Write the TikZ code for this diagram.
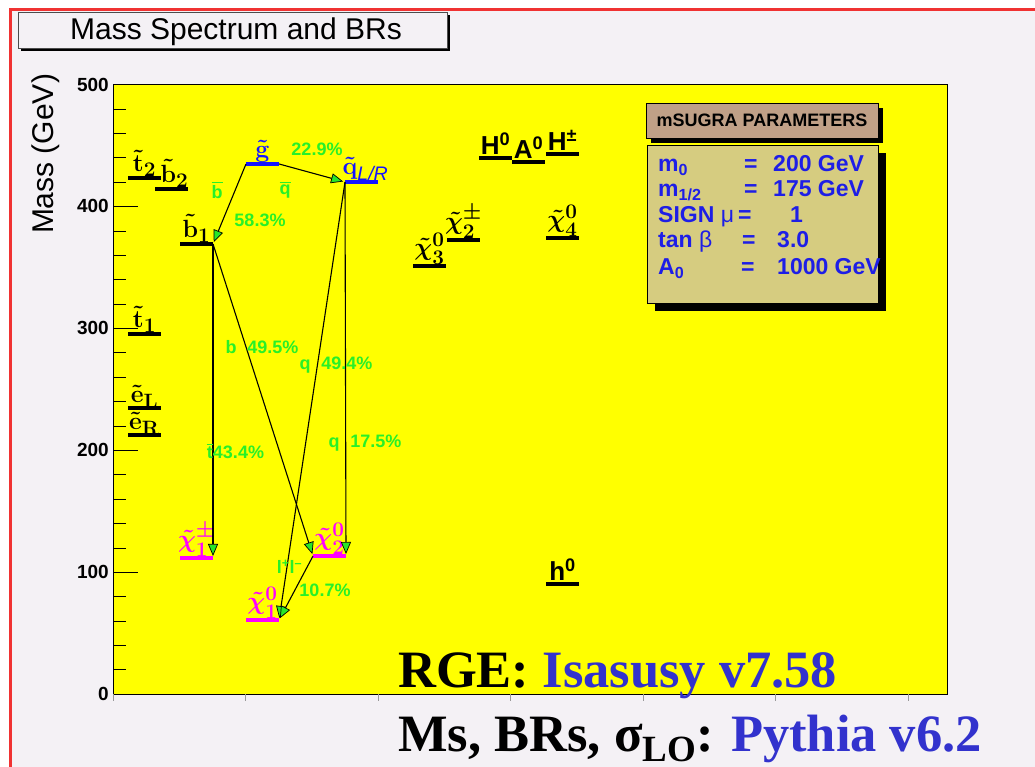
\documentclass[tikz,border=0pt]{standalone}
\usepackage{amsmath}
\usepackage{fontspec}
\setmainfont{Liberation Serif}
\setsansfont{Liberation Sans}
\usetikzlibrary{arrows.meta, positioning}

\definecolor{panelbg}{RGB}{244,241,245}
\definecolor{rootred}{RGB}{240,50,50}
\definecolor{plotyellow}{RGB}{255,255,0}
\definecolor{brgreen}{RGB}{40,240,40}
\definecolor{tipgreen}{RGB}{40,230,40}
\definecolor{sqblue}{RGB}{20,20,255}
\definecolor{inomag}{RGB}{255,0,255}
\definecolor{parblue}{RGB}{30,30,230}
\definecolor{partitle}{RGB}{192,160,135}
\definecolor{parbox}{RGB}{214,204,128}
\definecolor{progblue}{RGB}{50,50,205}

\tikzset{
  level/.style={line width=4.5pt},
  decay/.style={line width=1.1pt, -{Triangle[length=12pt,width=10pt,line width=0.7pt,fill=tipgreen]}, shorten >=2pt},
  spart/.style={inner sep=0.5pt, font=\fontsize{28}{28}\selectfont\boldmath},
  higgs/.style={inner sep=0.5pt, font=\fontsize{26}{26}\selectfont\sffamily\bfseries},
  br/.style={text=brgreen, inner sep=0pt, font=\fontsize{18}{18}\selectfont\sffamily\bfseries},
  axlab/.style={anchor=east, inner sep=0pt, font=\fontsize{19}{19}\selectfont\sffamily\bfseries},
  par/.style={text=parblue, anchor=base west, inner sep=0pt, font=\fontsize{23}{23}\selectfont\sffamily\bfseries},
  prog/.style={anchor=base west, inner sep=0pt, font=\fontsize{52.5}{52.5}\selectfont\bfseries},
}
\newcommand{\ovl}[1]{$\overline{\hbox{#1}}$}

\begin{document}
\begin{tikzpicture}[x=1pt, y=1pt]
    \useasboundingbox (0,0) rectangle (1035,767);
    % Canvas and red frame
    \fill[white] (0,0) rectangle (1035,767);
    \fill[panelbg] (10.5,0) rectangle (1035,757.5);
    \draw[rootred, line width=3pt] (10.5,0) -- (10.5,757.5) -- (1035,757.5);

    % Title box
    \draw[line width=2.5pt] (21,717.5) -- (448.5,717.5) -- (448.5,752);
    \draw[fill=panelbg, draw=black!70] (18,719) rectangle (447,755);
    \node[font=\fontsize{30}{30}\selectfont\sffamily, anchor=base] (title) at (236,727) {Mass Spectrum and BRs};

    % Axis title
    \node[rotate=90, font=\fontsize{30}{30}\selectfont\sffamily] (ytitle) at (46,613) {Mass (GeV)};

    \begin{scope}[shift={(113pt,73pt)}, y=1.219pt]
        % Frame
        \draw[fill=plotyellow, line width=0.8pt] (0,0) rectangle (834,500);

        % Y-axis ticks and labels
        \foreach \m in {0,20,...,500}
            \draw (0,\m) -- (13,\m);
        \foreach \m in {0,100,...,500} {
            \draw (0,\m) -- (25,\m);
            \node[axlab] (ylab\m) at (-4,\m) {\m};
        }
        % X-axis ticks
        \foreach \i in {0,...,6}
            \draw[black!40] ({\i*132.5},0) -- ({\i*132.5},-5.5);

        % --- Mass levels ---
        \foreach \nm/\x/\m/\c in {st2/15/423.3/black, sb2/42/414.3/black, sb1/67/369.2/black,
                gl/133/434.8/sqblue, sq/232/420.0/sqblue, st1/15/295.3/black,
                seL/15/234.6/black, seR/15/212.5/black, cha1/67/111.6/inomag,
                neu2/200/113.2/inomag, neu1/133/60.7/inomag, neu3/300/351.1/black,
                cha2/334/372.4/black, H/366/439.7/black, A/399/436.4/black,
                Hc/433/443.0/black, neu4/433/374.1/black, h/433/90.2/black} {
            \coordinate (\nm-l) at (\x,\m);
            \coordinate (\nm-r) at (\x+33,\m);
            \coordinate (\nm) at (\x+16.5,\m);
            \draw[level, \c] (\nm-l) -- (\nm-r);
        }

        % Particle labels
        \node[spart, above=1pt of st2] (st2-t) {$\tilde{\mathbf t}_2$};
        \node[spart, above=1pt of sb2, xshift=3pt] (sb2-t) {$\tilde{\mathbf b}_2$};
        \node[spart, above=1pt of sb1] (sb1-t) {$\tilde{\mathbf b}_1$};
        \node[spart, text=sqblue, above=1pt of gl] (gl-t) {$\tilde{\mathbf g}$};
        \node[spart, text=sqblue, above=1pt of sq, xshift=4pt] (sq-t) {$\tilde{\mathbf q}_{\textsf{\textit{L/R}}}$};
        \node[spart, above=1pt of st1] (st1-t) {$\tilde{\mathbf t}_1$};
        \node[spart, above=-1pt of seL] (seL-t) {$\tilde{\mathbf e}_{\mathbf L}$};
        \node[spart, above=-1pt of seR] (seR-t) {$\tilde{\mathbf e}_{\mathbf R}$};
        \node[spart, text=inomag, above=1pt of cha1] (cha1-t) {$\tilde{\chi}^{\pm}_1$};
        \node[spart, text=inomag, above=1pt of neu2] (neu2-t) {$\tilde{\chi}^{0}_2$};
        \node[spart, text=inomag, above=1pt of neu1] (neu1-t) {$\tilde{\chi}^{0}_1$};
        \node[spart, above=1pt of neu3] (neu3-t) {$\tilde{\chi}^{0}_3$};
        \node[spart, above=1pt of cha2] (cha2-t) {$\tilde{\chi}^{\pm}_2$};
        \node[spart, above=1pt of neu4] (neu4-t) {$\tilde{\chi}^{0}_4$};
        \node[higgs, above=3pt of H] (H-t) {H\textsuperscript{0}};
        \node[higgs, above=3pt of A] (A-t) {A\textsuperscript{0}};
        \node[higgs, above=3pt of Hc] (Hc-t) {H\textsuperscript{±}};
        \node[higgs, above=3pt of h] (h-t) {h\textsuperscript{0}};

        % Decays
        \draw[decay] (gl-l) -- (sb1-r);
        \draw[decay] (gl-r) -- (sq-l);
        \draw[decay] (sb1-r) -- (cha1-r);
        \draw[decay] (sb1-r) -- (neu2-l);
        \draw[decay] (sq-l) -- (neu2-r);
        \draw[decay] (sq-l) -- (neu1-r);
        \draw[decay] (neu2-l) -- (neu1-r);

        % Branching ratios
        \node[br] (br-gq) at (204,447.1) {22.9\%};
        \node[br] (br-qbar) at (172,413.5) {\ovl{q}};
        \node[br] (br-bbar) at (104,413.5) {\ovl{b}};
        \node[br] (br-gb) at (147,388.8) {58.3\%};
        \node[br] (br-bn) at (149,284.7) {b\hspace{0.6em}49.5\%};
        \node[br] (br-qn) at (223,269.9) {q\hspace{0.6em}49.4\%};
        \node[br] (br-bc) at (122.5,199.3) {\ovl{t}43.4\%};
        \node[br] (br-qc) at (252,205.9) {q\hspace{0.6em}17.5\%};
        \node[br] (br-ll) at (176.5,104.2) {l\textsuperscript{+}l\textsuperscript{--}};
        \node[br] (br-nn) at (212,85.3) {10.7\%};
    \end{scope}

    % mSUGRA parameters
    \fill (651,624) rectangle (883,659);
    \draw[fill=partitle, line width=0.8pt] (646,629) rectangle (878,664);
    \node[font=\fontsize{18}{18}\selectfont\sffamily\bfseries] (partitle) at (762,646.5) {mSUGRA PARAMETERS};
    \fill (655,456) rectangle (886,614);
    \draw[fill=parbox, line width=0.8pt] (647,464) rectangle (878,622);
    \node[par] (p-m0) at (658,595) {m\textsubscript{0}};
    \node[par] (p-m0e) at (744,595) {=};
    \node[par] (p-m0v) at (773,595) {200 GeV};
    \node[par] (p-mh) at (658,570) {m\textsubscript{1/2}};
    \node[par] (p-mhe) at (744,570) {=};
    \node[par] (p-mhv) at (773,570) {175 GeV};
    \node[par] (p-mu) at (658,544) {SIGN {\mdseries μ}};
    \node[par] (p-mue) at (738,544) {=};
    \node[par] (p-muv) at (790,544) {1};
    \node[par] (p-tb) at (658,519) {tan {\mdseries β}};
    \node[par] (p-tbe) at (742,519) {=};
    \node[par] (p-tbv) at (777,519) {3.0};
    \node[par] (p-a0) at (658,492) {A\textsubscript{0}};
    \node[par] (p-a0e) at (741,492) {=};
    \node[par] (p-a0v) at (777,492) {1000 GeV};

    % Programs
    \node[prog] (rge) at (398,79) {RGE: \textcolor{progblue}{Isasusy v7.58}};
    \node[prog] (gen) at (398,15) {Ms, BRs, σ\raisebox{-0.18em}{\fontsize{37}{37}\selectfont LO}: \textcolor{progblue}{Pythia v6.2}};
\end{tikzpicture}
\end{document}
